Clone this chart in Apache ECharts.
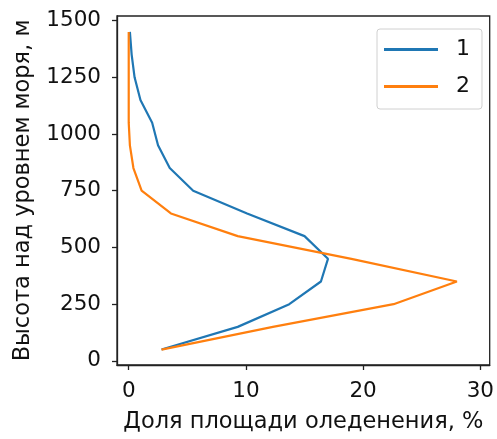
<!DOCTYPE html>
<html>
<head>
<meta charset="utf-8">
<script src="https://cdn.jsdelivr.net/npm/echarts@6/dist/echarts.min.js"></script>
<style>
  html, body { margin: 0; padding: 0; background: #fff; }
  #chart { width: 497px; height: 439px; }
</style>
</head>
<body>
<div id="chart"></div>
<script>
// Altitude bands (m a.s.l., band centres)
const heights = [50, 150, 250, 350, 450, 550, 650, 750, 850, 950, 1050, 1150, 1250, 1350, 1450];
// Share of glaciated area per band, %
const series1 = [2.8, 9.3, 13.7, 16.4, 17.0, 15.0, 10.1, 5.5, 3.5, 2.5, 2.0, 1.0, 0.5, 0.25, 0.1];
const series2 = [2.8, 12.3, 22.6, 28.0, 19.0, 9.3, 3.6, 1.1, 0.4, 0.1, 0.0, 0.0, 0.0, 0.0, 0.0];
const seriesNames = ['1', '2'];
const xTicks = [0, 10, 20, 30];
const yTicks = [0, 250, 500, 750, 1000, 1250, 1500];

const font = 'DejaVu Sans';
const chart = echarts.init(document.getElementById('chart'), null, { renderer: 'canvas' });

const toPairs = vals => vals.map((v, i) => [v, heights[i]]);

chart.setOption({
  animation: false,
  backgroundColor: '#ffffff',
  grid: {
    left: 117, right: 5, top: 16, bottom: 69,
    show: true, borderColor: '#222', borderWidth: 1.3, backgroundColor: 'transparent'
  },
  legend: {
    orient: 'vertical',
    left: 377, top: 29,
    padding: [8, 12, 10, 7],
    itemWidth: 54, itemHeight: 3, itemGap: 12,
    icon: 'rect',
    borderColor: '#d0d0d0', borderWidth: 1, borderRadius: 3,
    backgroundColor: 'rgba(255,255,255,0.8)',
    textStyle: { fontFamily: font, fontSize: 22, color: '#111', lineHeight: 25, padding: [0, 0, 0, 13] },
    data: seriesNames
  },
  xAxis: {
    type: 'value', min: -1, max: 30.8,
    name: 'Доля площади оледенения, %', nameLocation: 'middle', nameGap: 46,
    nameTextStyle: { fontFamily: font, fontSize: 22.5, color: '#111' },
    splitLine: { show: false },
    axisLine: { show: true, onZero: false, lineStyle: { color: '#222', width: 1.3 } },
    axisTick: { show: true, inside: false, length: 5, customValues: xTicks, lineStyle: { color: '#222', width: 1.3 } },
    axisLabel: { customValues: xTicks, margin: 15, fontFamily: font, fontSize: 21.5, color: '#111',
      formatter: v => String(v) }
  },
  yAxis: {
    type: 'value', min: -18, max: 1520,
    name: 'Высота над уровнем моря, м', nameLocation: 'middle', nameGap: 82, nameRotate: 90,
    nameTextStyle: { fontFamily: font, fontSize: 22.5, color: '#111' },
    splitLine: { show: false },
    axisLine: { show: true, onZero: false, lineStyle: { color: '#222', width: 1.3 } },
    axisTick: { show: true, inside: false, length: 5, customValues: yTicks, lineStyle: { color: '#222', width: 1.3 } },
    axisLabel: { customValues: yTicks, margin: 16, fontFamily: font, fontSize: 21.5, color: '#111',
      padding: [5, 0, 0, 0], formatter: v => String(v) }
  },
  series: [
    {
      name: seriesNames[0], type: 'line', data: toPairs(series1),
      showSymbol: false, symbol: 'none',
      lineStyle: { color: '#1f77b4', width: 2.2 }, itemStyle: { color: '#1f77b4' }
    },
    {
      name: seriesNames[1], type: 'line', data: toPairs(series2),
      showSymbol: false, symbol: 'none',
      lineStyle: { color: '#ff7f0e', width: 2.2 }, itemStyle: { color: '#ff7f0e' }
    }
  ]
});
</script>
</body>
</html>
